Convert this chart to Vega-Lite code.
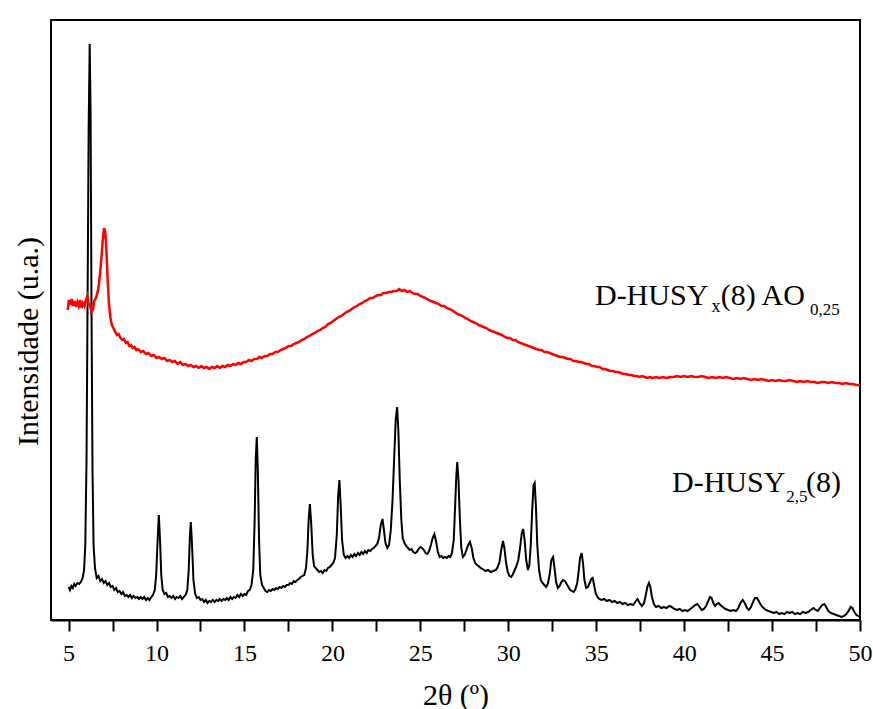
{
"$schema": "https://vega.github.io/schema/vega-lite/v6.json",
"width": 809,
"height": 600,
"autosize": "none",
"padding": {"left": 51, "top": 20, "right": 13, "bottom": 89},
"background": "white",
"config": {"view": {"stroke": "black", "strokeWidth": 2}},
"datasets": {
"husy25": [
{"theta":5.0,"intensity":33},{"theta":5.08,"intensity":30},{"theta":5.16,"intensity":34},{"theta":5.24,"intensity":32},{"theta":5.32,"intensity":36},{"theta":5.4,"intensity":34},{"theta":5.5,"intensity":37},{"theta":5.6,"intensity":36},{"theta":5.7,"intensity":38},{"theta":5.8,"intensity":42},{"theta":5.88,"intensity":50},{"theta":5.95,"intensity":75},{"theta":6.02,"intensity":160},{"theta":6.08,"intensity":320},{"theta":6.14,"intensity":490},{"theta":6.2,"intensity":576},{"theta":6.25,"intensity":510},{"theta":6.3,"intensity":320},{"theta":6.36,"intensity":150},{"theta":6.42,"intensity":75},{"theta":6.5,"intensity":52},{"theta":6.6,"intensity":42},{"theta":6.7,"intensity":44},{"theta":6.8,"intensity":39},{"theta":6.9,"intensity":41},{"theta":7.0,"intensity":37},{"theta":7.1,"intensity":39},{"theta":7.2,"intensity":35},{"theta":7.3,"intensity":37},{"theta":7.4,"intensity":33},{"theta":7.5,"intensity":34},{"theta":7.6,"intensity":30},{"theta":7.7,"intensity":32},{"theta":7.8,"intensity":28},{"theta":7.9,"intensity":29},{"theta":8.0,"intensity":26},{"theta":8.1,"intensity":28},{"theta":8.2,"intensity":24},{"theta":8.3,"intensity":25},{"theta":8.4,"intensity":23},{"theta":8.5,"intensity":25},{"theta":8.6,"intensity":22},{"theta":8.7,"intensity":24},{"theta":8.8,"intensity":22},{"theta":8.9,"intensity":23},{"theta":9.0,"intensity":21},{"theta":9.1,"intensity":23},{"theta":9.2,"intensity":21},{"theta":9.3,"intensity":23},{"theta":9.4,"intensity":20},{"theta":9.5,"intensity":22},{"theta":9.6,"intensity":20},{"theta":9.7,"intensity":23},{"theta":9.8,"intensity":25},{"theta":9.9,"intensity":30},{"theta":9.98,"intensity":45},{"theta":10.05,"intensity":75},{"theta":10.13,"intensity":105},{"theta":10.2,"intensity":80},{"theta":10.27,"intensity":45},{"theta":10.35,"intensity":30},{"theta":10.45,"intensity":26},{"theta":10.55,"intensity":27},{"theta":10.65,"intensity":23},{"theta":10.75,"intensity":24},{"theta":10.85,"intensity":22},{"theta":10.95,"intensity":24},{"theta":11.05,"intensity":21},{"theta":11.15,"intensity":23},{"theta":11.25,"intensity":22},{"theta":11.35,"intensity":24},{"theta":11.45,"intensity":21},{"theta":11.55,"intensity":23},{"theta":11.65,"intensity":25},{"theta":11.75,"intensity":30},{"theta":11.83,"intensity":50},{"theta":11.9,"intensity":85},{"theta":11.95,"intensity":98},{"theta":12.02,"intensity":75},{"theta":12.1,"intensity":40},{"theta":12.2,"intensity":26},{"theta":12.3,"intensity":22},{"theta":12.4,"intensity":23},{"theta":12.5,"intensity":20},{"theta":12.6,"intensity":21},{"theta":12.7,"intensity":18},{"theta":12.8,"intensity":20},{"theta":12.9,"intensity":17},{"theta":13.0,"intensity":19},{"theta":13.1,"intensity":18},{"theta":13.2,"intensity":20},{"theta":13.3,"intensity":18},{"theta":13.4,"intensity":20},{"theta":13.5,"intensity":19},{"theta":13.6,"intensity":21},{"theta":13.7,"intensity":19},{"theta":13.8,"intensity":21},{"theta":13.9,"intensity":20},{"theta":14.0,"intensity":22},{"theta":14.1,"intensity":20},{"theta":14.2,"intensity":23},{"theta":14.3,"intensity":21},{"theta":14.4,"intensity":23},{"theta":14.5,"intensity":22},{"theta":14.6,"intensity":25},{"theta":14.7,"intensity":23},{"theta":14.8,"intensity":26},{"theta":14.9,"intensity":24},{"theta":15.0,"intensity":26},{"theta":15.1,"intensity":25},{"theta":15.2,"intensity":29},{"theta":15.3,"intensity":30},{"theta":15.4,"intensity":35},{"theta":15.5,"intensity":50},{"theta":15.58,"intensity":100},{"theta":15.64,"intensity":160},{"theta":15.7,"intensity":183},{"theta":15.76,"intensity":150},{"theta":15.83,"intensity":80},{"theta":15.9,"intensity":45},{"theta":16.0,"intensity":35},{"theta":16.1,"intensity":32},{"theta":16.2,"intensity":29},{"theta":16.3,"intensity":28},{"theta":16.4,"intensity":30},{"theta":16.5,"intensity":29},{"theta":16.6,"intensity":31},{"theta":16.7,"intensity":30},{"theta":16.8,"intensity":32},{"theta":16.9,"intensity":31},{"theta":17.0,"intensity":33},{"theta":17.1,"intensity":32},{"theta":17.2,"intensity":34},{"theta":17.3,"intensity":33},{"theta":17.4,"intensity":35},{"theta":17.5,"intensity":35},{"theta":17.6,"intensity":37},{"theta":17.7,"intensity":36},{"theta":17.8,"intensity":39},{"theta":17.9,"intensity":38},{"theta":18.0,"intensity":40},{"theta":18.1,"intensity":41},{"theta":18.2,"intensity":43},{"theta":18.3,"intensity":44},{"theta":18.4,"intensity":45},{"theta":18.5,"intensity":52},{"theta":18.58,"intensity":70},{"theta":18.65,"intensity":100},{"theta":18.72,"intensity":116},{"theta":18.8,"intensity":95},{"theta":18.88,"intensity":65},{"theta":18.96,"intensity":54},{"theta":19.05,"intensity":52},{"theta":19.15,"intensity":50},{"theta":19.25,"intensity":48},{"theta":19.35,"intensity":49},{"theta":19.45,"intensity":47},{"theta":19.55,"intensity":50},{"theta":19.65,"intensity":49},{"theta":19.75,"intensity":52},{"theta":19.85,"intensity":53},{"theta":19.95,"intensity":55},{"theta":20.05,"intensity":57},{"theta":20.15,"intensity":62},{"theta":20.25,"intensity":85},{"theta":20.33,"intensity":125},{"theta":20.4,"intensity":140},{"theta":20.47,"intensity":115},{"theta":20.55,"intensity":80},{"theta":20.65,"intensity":65},{"theta":20.75,"intensity":62},{"theta":20.85,"intensity":64},{"theta":20.95,"intensity":62},{"theta":21.05,"intensity":65},{"theta":21.15,"intensity":63},{"theta":21.25,"intensity":66},{"theta":21.35,"intensity":64},{"theta":21.45,"intensity":67},{"theta":21.55,"intensity":65},{"theta":21.65,"intensity":68},{"theta":21.75,"intensity":66},{"theta":21.85,"intensity":69},{"theta":21.95,"intensity":67},{"theta":22.05,"intensity":70},{"theta":22.15,"intensity":69},{"theta":22.25,"intensity":71},{"theta":22.35,"intensity":72},{"theta":22.45,"intensity":74},{"theta":22.55,"intensity":76},{"theta":22.65,"intensity":82},{"theta":22.75,"intensity":95},{"theta":22.85,"intensity":101},{"theta":22.93,"intensity":90},{"theta":23.02,"intensity":77},{"theta":23.12,"intensity":72},{"theta":23.22,"intensity":75},{"theta":23.32,"intensity":90},{"theta":23.42,"intensity":120},{"theta":23.52,"intensity":165},{"theta":23.6,"intensity":200},{"theta":23.68,"intensity":213},{"theta":23.75,"intensity":190},{"theta":23.83,"intensity":140},{"theta":23.92,"intensity":100},{"theta":24.0,"intensity":82},{"theta":24.1,"intensity":77},{"theta":24.2,"intensity":74},{"theta":24.3,"intensity":72},{"theta":24.4,"intensity":70},{"theta":24.5,"intensity":71},{"theta":24.6,"intensity":68},{"theta":24.7,"intensity":67},{"theta":24.8,"intensity":68},{"theta":24.9,"intensity":71},{"theta":25.0,"intensity":73},{"theta":25.1,"intensity":72},{"theta":25.2,"intensity":70},{"theta":25.3,"intensity":67},{"theta":25.4,"intensity":66},{"theta":25.5,"intensity":69},{"theta":25.6,"intensity":75},{"theta":25.7,"intensity":82},{"theta":25.8,"intensity":86},{"theta":25.9,"intensity":78},{"theta":26.0,"intensity":68},{"theta":26.1,"intensity":63},{"theta":26.2,"intensity":64},{"theta":26.3,"intensity":62},{"theta":26.4,"intensity":63},{"theta":26.5,"intensity":62},{"theta":26.6,"intensity":64},{"theta":26.7,"intensity":63},{"theta":26.8,"intensity":67},{"theta":26.9,"intensity":80},{"theta":26.97,"intensity":110},{"theta":27.04,"intensity":142},{"theta":27.1,"intensity":158},{"theta":27.17,"intensity":140},{"theta":27.25,"intensity":100},{"theta":27.33,"intensity":72},{"theta":27.42,"intensity":63},{"theta":27.52,"intensity":65},{"theta":27.62,"intensity":70},{"theta":27.72,"intensity":75},{"theta":27.82,"intensity":78},{"theta":27.92,"intensity":72},{"theta":28.02,"intensity":62},{"theta":28.12,"intensity":57},{"theta":28.22,"intensity":55},{"theta":28.32,"intensity":54},{"theta":28.42,"intensity":52},{"theta":28.55,"intensity":51},{"theta":28.7,"intensity":49},{"theta":28.85,"intensity":50},{"theta":29.0,"intensity":48},{"theta":29.15,"intensity":49},{"theta":29.3,"intensity":50},{"theta":29.4,"intensity":53},{"theta":29.5,"intensity":58},{"theta":29.6,"intensity":70},{"theta":29.7,"intensity":79},{"theta":29.78,"intensity":72},{"theta":29.87,"intensity":58},{"theta":29.97,"intensity":48},{"theta":30.07,"intensity":44},{"theta":30.17,"intensity":43},{"theta":30.27,"intensity":46},{"theta":30.37,"intensity":50},{"theta":30.47,"intensity":54},{"theta":30.57,"intensity":60},{"theta":30.67,"intensity":72},{"theta":30.77,"intensity":87},{"theta":30.85,"intensity":91},{"theta":30.93,"intensity":80},{"theta":31.02,"intensity":60},{"theta":31.12,"intensity":50},{"theta":31.2,"intensity":55},{"theta":31.28,"intensity":75},{"theta":31.36,"intensity":110},{"theta":31.44,"intensity":135},{"theta":31.5,"intensity":137},{"theta":31.57,"intensity":115},{"theta":31.65,"intensity":75},{"theta":31.75,"intensity":50},{"theta":31.85,"intensity":40},{"theta":31.95,"intensity":37},{"theta":32.05,"intensity":35},{"theta":32.15,"intensity":33},{"theta":32.25,"intensity":36},{"theta":32.35,"intensity":45},{"theta":32.45,"intensity":60},{"theta":32.55,"intensity":63},{"theta":32.63,"intensity":52},{"theta":32.72,"intensity":38},{"theta":32.82,"intensity":32},{"theta":32.92,"intensity":34},{"theta":33.02,"intensity":38},{"theta":33.12,"intensity":40},{"theta":33.22,"intensity":39},{"theta":33.32,"intensity":36},{"theta":33.42,"intensity":33},{"theta":33.52,"intensity":30},{"theta":33.62,"intensity":29},{"theta":33.72,"intensity":28},{"theta":33.82,"intensity":31},{"theta":33.92,"intensity":37},{"theta":34.0,"intensity":48},{"theta":34.08,"intensity":62},{"theta":34.17,"intensity":67},{"theta":34.25,"intensity":57},{"theta":34.33,"intensity":40},{"theta":34.43,"intensity":32},{"theta":34.53,"intensity":33},{"theta":34.63,"intensity":37},{"theta":34.72,"intensity":41},{"theta":34.8,"intensity":42},{"theta":34.88,"intensity":35},{"theta":34.97,"intensity":27},{"theta":35.07,"intensity":23},{"theta":35.17,"intensity":21},{"theta":35.3,"intensity":20},{"theta":35.45,"intensity":21},{"theta":35.6,"intensity":19},{"theta":35.75,"intensity":20},{"theta":35.9,"intensity":18},{"theta":36.05,"intensity":19},{"theta":36.2,"intensity":17},{"theta":36.35,"intensity":18},{"theta":36.5,"intensity":16},{"theta":36.65,"intensity":17},{"theta":36.8,"intensity":15},{"theta":36.95,"intensity":16},{"theta":37.1,"intensity":15},{"theta":37.22,"intensity":18},{"theta":37.35,"intensity":21},{"theta":37.47,"intensity":17},{"theta":37.6,"intensity":14},{"theta":37.72,"intensity":17},{"theta":37.82,"intensity":25},{"theta":37.92,"intensity":34},{"theta":38.0,"intensity":37},{"theta":38.08,"intensity":33},{"theta":38.17,"intensity":23},{"theta":38.28,"intensity":16},{"theta":38.4,"intensity":13},{"theta":38.55,"intensity":14},{"theta":38.7,"intensity":12},{"theta":38.85,"intensity":13},{"theta":39.0,"intensity":12},{"theta":39.15,"intensity":14},{"theta":39.3,"intensity":13},{"theta":39.45,"intensity":11},{"theta":39.6,"intensity":10},{"theta":39.75,"intensity":11},{"theta":39.9,"intensity":9},{"theta":40.05,"intensity":10},{"theta":40.2,"intensity":9},{"theta":40.35,"intensity":11},{"theta":40.5,"intensity":13},{"theta":40.62,"intensity":15},{"theta":40.75,"intensity":16},{"theta":40.88,"intensity":13},{"theta":41.0,"intensity":10},{"theta":41.12,"intensity":11},{"theta":41.25,"intensity":14},{"theta":41.37,"intensity":19},{"theta":41.47,"intensity":23},{"theta":41.56,"intensity":22},{"theta":41.66,"intensity":17},{"theta":41.76,"intensity":14},{"theta":41.86,"intensity":16},{"theta":41.96,"intensity":17},{"theta":42.06,"intensity":15},{"theta":42.2,"intensity":13},{"theta":42.35,"intensity":11},{"theta":42.5,"intensity":10},{"theta":42.65,"intensity":9},{"theta":42.8,"intensity":10},{"theta":42.95,"intensity":9},{"theta":43.08,"intensity":12},{"theta":43.2,"intensity":17},{"theta":43.33,"intensity":20},{"theta":43.45,"intensity":17},{"theta":43.57,"intensity":12},{"theta":43.68,"intensity":10},{"theta":43.8,"intensity":13},{"theta":43.92,"intensity":18},{"theta":44.03,"intensity":22},{"theta":44.15,"intensity":22},{"theta":44.27,"intensity":18},{"theta":44.4,"intensity":14},{"theta":44.52,"intensity":12},{"theta":44.65,"intensity":10},{"theta":44.8,"intensity":9},{"theta":44.95,"intensity":8},{"theta":45.1,"intensity":7},{"theta":45.25,"intensity":8},{"theta":45.4,"intensity":6},{"theta":45.55,"intensity":7},{"theta":45.7,"intensity":6},{"theta":45.85,"intensity":8},{"theta":46.0,"intensity":7},{"theta":46.15,"intensity":8},{"theta":46.3,"intensity":6},{"theta":46.45,"intensity":7},{"theta":46.6,"intensity":6},{"theta":46.75,"intensity":8},{"theta":46.9,"intensity":7},{"theta":47.05,"intensity":8},{"theta":47.2,"intensity":10},{"theta":47.35,"intensity":12},{"theta":47.48,"intensity":10},{"theta":47.6,"intensity":9},{"theta":47.72,"intensity":12},{"theta":47.85,"intensity":15},{"theta":47.97,"intensity":16},{"theta":48.08,"intensity":13},{"theta":48.2,"intensity":9},{"theta":48.35,"intensity":7},{"theta":48.5,"intensity":6},{"theta":48.65,"intensity":5},{"theta":48.8,"intensity":4},{"theta":48.95,"intensity":3},{"theta":49.1,"intensity":4},{"theta":49.22,"intensity":6},{"theta":49.35,"intensity":9},{"theta":49.47,"intensity":13},{"theta":49.57,"intensity":12},{"theta":49.68,"intensity":8},{"theta":49.8,"intensity":5},{"theta":49.9,"intensity":4},{"theta":50.0,"intensity":3}
],
"husyx": [
{"theta":4.95,"intensity":310},{"theta":5.02,"intensity":320},{"theta":5.1,"intensity":315},{"theta":5.18,"intensity":321},{"theta":5.26,"intensity":314},{"theta":5.34,"intensity":319},{"theta":5.42,"intensity":313},{"theta":5.5,"intensity":318},{"theta":5.58,"intensity":314},{"theta":5.66,"intensity":320},{"theta":5.74,"intensity":312},{"theta":5.82,"intensity":317},{"theta":5.9,"intensity":314},{"theta":5.98,"intensity":320},{"theta":6.06,"intensity":324},{"theta":6.14,"intensity":316},{"theta":6.22,"intensity":315},{"theta":6.3,"intensity":308},{"theta":6.38,"intensity":310},{"theta":6.46,"intensity":319},{"theta":6.55,"intensity":322},{"theta":6.64,"intensity":327},{"theta":6.72,"intensity":335},{"theta":6.8,"intensity":348},{"theta":6.88,"intensity":365},{"theta":6.95,"intensity":382},{"theta":7.02,"intensity":392},{"theta":7.08,"intensity":388},{"theta":7.15,"intensity":370},{"theta":7.22,"intensity":340},{"theta":7.3,"intensity":315},{"theta":7.38,"intensity":302},{"theta":7.46,"intensity":295},{"theta":7.55,"intensity":292},{"theta":7.65,"intensity":288},{"theta":7.75,"intensity":285},{"theta":7.85,"intensity":286},{"theta":7.95,"intensity":282},{"theta":8.05,"intensity":280},{"theta":8.15,"intensity":281},{"theta":8.25,"intensity":277},{"theta":8.35,"intensity":278},{"theta":8.45,"intensity":274},{"theta":8.55,"intensity":275},{"theta":8.65,"intensity":272},{"theta":8.75,"intensity":273},{"theta":8.85,"intensity":270},{"theta":8.95,"intensity":271},{"theta":9.1,"intensity":268},{"theta":9.25,"intensity":269},{"theta":9.4,"intensity":266},{"theta":9.55,"intensity":267},{"theta":9.7,"intensity":264},{"theta":9.85,"intensity":265},{"theta":10.0,"intensity":262},{"theta":10.15,"intensity":263},{"theta":10.3,"intensity":261},{"theta":10.45,"intensity":262},{"theta":10.6,"intensity":259},{"theta":10.75,"intensity":260},{"theta":10.9,"intensity":258},{"theta":11.05,"intensity":259},{"theta":11.2,"intensity":256},{"theta":11.35,"intensity":258},{"theta":11.5,"intensity":255},{"theta":11.65,"intensity":256},{"theta":11.8,"intensity":254},{"theta":11.95,"intensity":255},{"theta":12.1,"intensity":253},{"theta":12.25,"intensity":254},{"theta":12.4,"intensity":252},{"theta":12.55,"intensity":254},{"theta":12.7,"intensity":252},{"theta":12.85,"intensity":253},{"theta":13.0,"intensity":251},{"theta":13.15,"intensity":253},{"theta":13.3,"intensity":252},{"theta":13.45,"intensity":254},{"theta":13.6,"intensity":252},{"theta":13.75,"intensity":254},{"theta":13.9,"intensity":253},{"theta":14.05,"intensity":255},{"theta":14.2,"intensity":254},{"theta":14.35,"intensity":256},{"theta":14.5,"intensity":255},{"theta":14.65,"intensity":257},{"theta":14.8,"intensity":256},{"theta":14.95,"intensity":258},{"theta":15.1,"intensity":258},{"theta":15.25,"intensity":260},{"theta":15.4,"intensity":259},{"theta":15.55,"intensity":261},{"theta":15.7,"intensity":261},{"theta":15.85,"intensity":263},{"theta":16.0,"intensity":262},{"theta":16.15,"intensity":264},{"theta":16.3,"intensity":264},{"theta":16.45,"intensity":266},{"theta":16.6,"intensity":266},{"theta":16.75,"intensity":268},{"theta":16.9,"intensity":268},{"theta":17.05,"intensity":270},{"theta":17.2,"intensity":271},{"theta":17.35,"intensity":272},{"theta":17.5,"intensity":274},{"theta":17.65,"intensity":274},{"theta":17.8,"intensity":276},{"theta":17.95,"intensity":277},{"theta":18.1,"intensity":278},{"theta":18.25,"intensity":280},{"theta":18.4,"intensity":281},{"theta":18.55,"intensity":283},{"theta":18.7,"intensity":284},{"theta":18.85,"intensity":286},{"theta":19.0,"intensity":287},{"theta":19.15,"intensity":289},{"theta":19.3,"intensity":290},{"theta":19.45,"intensity":292},{"theta":19.6,"intensity":293},{"theta":19.75,"intensity":296},{"theta":19.9,"intensity":297},{"theta":20.05,"intensity":299},{"theta":20.2,"intensity":301},{"theta":20.35,"intensity":303},{"theta":20.5,"intensity":304},{"theta":20.65,"intensity":306},{"theta":20.8,"intensity":308},{"theta":20.95,"intensity":309},{"theta":21.1,"intensity":311},{"theta":21.25,"intensity":313},{"theta":21.4,"intensity":314},{"theta":21.55,"intensity":316},{"theta":21.7,"intensity":317},{"theta":21.85,"intensity":319},{"theta":22.0,"intensity":320},{"theta":22.15,"intensity":322},{"theta":22.3,"intensity":322},{"theta":22.45,"intensity":324},{"theta":22.6,"intensity":325},{"theta":22.75,"intensity":325},{"theta":22.9,"intensity":327},{"theta":23.05,"intensity":327},{"theta":23.2,"intensity":328},{"theta":23.35,"intensity":328},{"theta":23.5,"intensity":329},{"theta":23.65,"intensity":329},{"theta":23.8,"intensity":331},{"theta":23.95,"intensity":329},{"theta":24.1,"intensity":330},{"theta":24.25,"intensity":328},{"theta":24.4,"intensity":329},{"theta":24.55,"intensity":327},{"theta":24.7,"intensity":326},{"theta":24.85,"intensity":326},{"theta":25.0,"intensity":324},{"theta":25.15,"intensity":323},{"theta":25.3,"intensity":322},{"theta":25.45,"intensity":320},{"theta":25.6,"intensity":319},{"theta":25.75,"intensity":318},{"theta":25.9,"intensity":317},{"theta":26.05,"intensity":316},{"theta":26.2,"intensity":314},{"theta":26.35,"intensity":314},{"theta":26.5,"intensity":312},{"theta":26.65,"intensity":311},{"theta":26.8,"intensity":310},{"theta":26.95,"intensity":308},{"theta":27.1,"intensity":306},{"theta":27.25,"intensity":305},{"theta":27.4,"intensity":304},{"theta":27.55,"intensity":302},{"theta":27.7,"intensity":301},{"theta":27.85,"intensity":299},{"theta":28.0,"intensity":298},{"theta":28.15,"intensity":297},{"theta":28.3,"intensity":295},{"theta":28.45,"intensity":294},{"theta":28.6,"intensity":293},{"theta":28.75,"intensity":292},{"theta":28.9,"intensity":290},{"theta":29.05,"intensity":289},{"theta":29.2,"intensity":288},{"theta":29.35,"intensity":287},{"theta":29.5,"intensity":286},{"theta":29.65,"intensity":285},{"theta":29.8,"intensity":283},{"theta":29.95,"intensity":282},{"theta":30.1,"intensity":282},{"theta":30.25,"intensity":280},{"theta":30.4,"intensity":280},{"theta":30.55,"intensity":278},{"theta":30.7,"intensity":277},{"theta":30.85,"intensity":276},{"theta":31.0,"intensity":275},{"theta":31.15,"intensity":274},{"theta":31.3,"intensity":273},{"theta":31.45,"intensity":272},{"theta":31.6,"intensity":271},{"theta":31.75,"intensity":270},{"theta":31.9,"intensity":270},{"theta":32.05,"intensity":268},{"theta":32.2,"intensity":268},{"theta":32.35,"intensity":267},{"theta":32.5,"intensity":266},{"theta":32.65,"intensity":265},{"theta":32.8,"intensity":264},{"theta":32.95,"intensity":263},{"theta":33.1,"intensity":263},{"theta":33.25,"intensity":262},{"theta":33.4,"intensity":261},{"theta":33.55,"intensity":261},{"theta":33.7,"intensity":259},{"theta":33.85,"intensity":259},{"theta":34.0,"intensity":258},{"theta":34.15,"intensity":258},{"theta":34.3,"intensity":257},{"theta":34.45,"intensity":256},{"theta":34.6,"intensity":256},{"theta":34.75,"intensity":254},{"theta":34.9,"intensity":254},{"theta":35.05,"intensity":253},{"theta":35.2,"intensity":253},{"theta":35.35,"intensity":251},{"theta":35.5,"intensity":251},{"theta":35.65,"intensity":250},{"theta":35.8,"intensity":249},{"theta":35.95,"intensity":249},{"theta":36.1,"intensity":248},{"theta":36.25,"intensity":248},{"theta":36.4,"intensity":247},{"theta":36.55,"intensity":246},{"theta":36.7,"intensity":246},{"theta":36.85,"intensity":245},{"theta":37.0,"intensity":245},{"theta":37.15,"intensity":244},{"theta":37.3,"intensity":244},{"theta":37.45,"intensity":243},{"theta":37.6,"intensity":244},{"theta":37.75,"intensity":243},{"theta":37.9,"intensity":242},{"theta":38.05,"intensity":243},{"theta":38.2,"intensity":242},{"theta":38.4,"intensity":243},{"theta":38.6,"intensity":242},{"theta":38.8,"intensity":243},{"theta":39.0,"intensity":242},{"theta":39.2,"intensity":243},{"theta":39.4,"intensity":243},{"theta":39.6,"intensity":244},{"theta":39.8,"intensity":243},{"theta":40.0,"intensity":244},{"theta":40.2,"intensity":243},{"theta":40.4,"intensity":244},{"theta":40.6,"intensity":243},{"theta":40.8,"intensity":243},{"theta":41.0,"intensity":244},{"theta":41.2,"intensity":243},{"theta":41.4,"intensity":242},{"theta":41.6,"intensity":243},{"theta":41.8,"intensity":242},{"theta":42.0,"intensity":243},{"theta":42.2,"intensity":242},{"theta":42.4,"intensity":243},{"theta":42.6,"intensity":242},{"theta":42.8,"intensity":241},{"theta":43.0,"intensity":242},{"theta":43.2,"intensity":241},{"theta":43.4,"intensity":242},{"theta":43.6,"intensity":241},{"theta":43.8,"intensity":240},{"theta":44.0,"intensity":241},{"theta":44.2,"intensity":240},{"theta":44.4,"intensity":241},{"theta":44.6,"intensity":240},{"theta":44.8,"intensity":239},{"theta":45.0,"intensity":240},{"theta":45.2,"intensity":239},{"theta":45.4,"intensity":240},{"theta":45.6,"intensity":239},{"theta":45.8,"intensity":239},{"theta":46.0,"intensity":240},{"theta":46.2,"intensity":239},{"theta":46.4,"intensity":238},{"theta":46.6,"intensity":239},{"theta":46.8,"intensity":238},{"theta":47.0,"intensity":239},{"theta":47.2,"intensity":238},{"theta":47.4,"intensity":238},{"theta":47.6,"intensity":237},{"theta":47.8,"intensity":238},{"theta":48.0,"intensity":238},{"theta":48.2,"intensity":237},{"theta":48.4,"intensity":238},{"theta":48.6,"intensity":237},{"theta":48.8,"intensity":237},{"theta":49.0,"intensity":236},{"theta":49.2,"intensity":237},{"theta":49.4,"intensity":236},{"theta":49.6,"intensity":236},{"theta":49.8,"intensity":235},{"theta":50.0,"intensity":235}
]
},
"layer": [
{
"data": {"name": "husy25"},
"mark": {"type": "line", "color": "#000000", "strokeWidth": 2},
"encoding": {
"x": {"field": "theta", "type": "quantitative",
"scale": {"domain": [4, 50], "nice": false, "zero": false},
"axis": {"title": "2θ (º)", "values": [5,7.5,10,12.5,15,17.5,20,22.5,25,27.5,30,32.5,35,37.5,40,42.5,45,47.5,50],
"labelExpr": "datum.value % 5 === 0 ? format(datum.value, 'd') : ''",
"grid": false, "domainColor": "#000000", "domainWidth": 2,
"tickColor": "#000000", "tickWidth": 2, "tickSize": 11,
"encode": {"ticks": {"update": {"y2": {"signal": "datum.value % 5 === 0 ? 11 : 6"}}}},
"labelFont": "Liberation Serif", "labelFontSize": 24, "labelColor": "#000000",
"labelBaseline": "alphabetic", "labelPadding": 29, "labelFlush": false, "labelOverlap": false,
"titleFont": "Liberation Serif", "titleFontSize": 30, "titleFontWeight": "normal", "titleColor": "#000000",
"titleBaseline": "alphabetic", "titleY": 84}},
"y": {"field": "intensity", "type": "quantitative",
"scale": {"domain": [0, 600], "nice": false, "zero": false},
"axis": {"title": "Intensidade (u.a.)", "labels": false, "ticks": false, "domain": false, "grid": false,
"titleFont": "Liberation Serif", "titleFontSize": 30, "titleFontWeight": "normal", "titleColor": "#000000",
"titleAngle": 270, "titleAlign": "center", "titleBaseline": "alphabetic", "titleX": -14, "titleY": 321}}
}
},
{
"data": {"name": "husyx"},
"mark": {"type": "line", "color": "#ff0000", "strokeWidth": 2.5},
"encoding": {
"x": {"field": "theta", "type": "quantitative"},
"y": {"field": "intensity", "type": "quantitative"}
}
},
{"data": {"values": [{}]}, "mark": {"type": "text", "text": "D-HUSY", "align": "left", "baseline": "alphabetic", "font": "Liberation Serif", "fontSize": 30, "color": "#000000"},
"encoding": {"x": {"datum": 34.93, "type": "quantitative"}, "y": {"datum": 315, "type": "quantitative"}}},
{"data": {"values": [{}]}, "mark": {"type": "text", "text": "x", "align": "left", "baseline": "alphabetic", "font": "Liberation Serif", "fontSize": 18, "color": "#000000"},
"encoding": {"x": {"datum": 41.55, "type": "quantitative"}, "y": {"datum": 308, "type": "quantitative"}}},
{"data": {"values": [{}]}, "mark": {"type": "text", "text": "(8) AO", "align": "left", "baseline": "alphabetic", "font": "Liberation Serif", "fontSize": 30, "color": "#000000"},
"encoding": {"x": {"datum": 42.08, "type": "quantitative"}, "y": {"datum": 315, "type": "quantitative"}}},
{"data": {"values": [{}]}, "mark": {"type": "text", "text": "0,25", "align": "left", "baseline": "alphabetic", "font": "Liberation Serif", "fontSize": 17, "color": "#000000"},
"encoding": {"x": {"datum": 47.15, "type": "quantitative"}, "y": {"datum": 305, "type": "quantitative"}}},
{"data": {"values": [{}]}, "mark": {"type": "text", "text": "D-HUSY", "align": "left", "baseline": "alphabetic", "font": "Liberation Serif", "fontSize": 30, "color": "#000000"},
"encoding": {"x": {"datum": 39.31, "type": "quantitative"}, "y": {"datum": 128, "type": "quantitative"}}},
{"data": {"values": [{}]}, "mark": {"type": "text", "text": "2,5", "align": "left", "baseline": "alphabetic", "font": "Liberation Serif", "fontSize": 17, "color": "#000000"},
"encoding": {"x": {"datum": 45.8, "type": "quantitative"}, "y": {"datum": 118, "type": "quantitative"}}},
{"data": {"values": [{}]}, "mark": {"type": "text", "text": "(8)", "align": "left", "baseline": "alphabetic", "font": "Liberation Serif", "fontSize": 30, "color": "#000000"},
"encoding": {"x": {"datum": 46.93, "type": "quantitative"}, "y": {"datum": 128, "type": "quantitative"}}}
]
}
